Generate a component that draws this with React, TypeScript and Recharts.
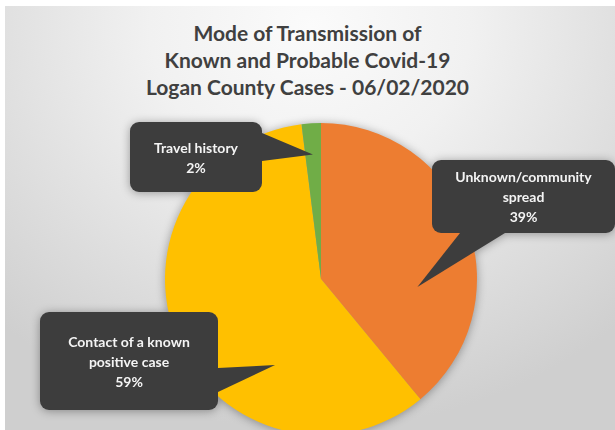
import { PieChart, Pie, Cell } from "recharts";

const categories = ["Unknown/community spread", "Contact of a known positive case", "Travel history"];
const shares = [39, 59, 2];
const labelLines = [["Unknown/community", "spread"], ["Contact of a known", "positive case"], ["Travel history"]];
const titleLines = ["Mode of Transmission of", "Known and Probable Covid-19", "Logan County Cases - 06/02/2020"];
const colors = ["#ED7D31", "#FFC000", "#70AD47"];

// callout placement, offsets from the pie centre (px)
const callouts = [
    { tipAngle: -4.7, tipR: 0.62, x: 111, y: -119, w: 183, h: 73, base: [[139, -46], [184, -46]] },
    { tipAngle: -118.1, tipR: 0.625, x: -281, y: 33, w: 178, h: 98, base: [[-103, 89], [-103, 113]] },
    { tipAngle: 93.7, tipR: 0.8, x: -191, y: -157, w: 132, h: 70, base: [[-59, -146], [-59, -118]] },
];

const data = categories.map((name, i) => ({ name, value: shares[i] }));
const RAD = Math.PI / 180;

const renderCallout = (props: any) => {
    const { cx, cy, outerRadius, index } = props;
    const c = callouts[index];
    const tx = cx + outerRadius * c.tipR * Math.cos(c.tipAngle * RAD);
    const ty = cy - outerRadius * c.tipR * Math.sin(c.tipAngle * RAD);
    const bx = cx + c.x;
    const by = cy + c.y;
    const lines = [...labelLines[index], `${shares[index]}%`];
    const mid = by + c.h / 2;
    const lh = 20;
    const start = mid - ((lines.length - 1) * lh) / 2;
    const pts = `${cx + c.base[0][0]},${cy + c.base[0][1]} ${tx},${ty} ${cx + c.base[1][0]},${cy + c.base[1][1]}`;
    return (
        <g key={`callout-${index}`}>
            <rect x={bx} y={by} width={c.w} height={c.h} rx={9} fill="#3d3d3d" />
            <polygon points={pts} fill="#3d3d3d" />
            {lines.map((t, i) => (
                <text
                    key={i}
                    x={bx + c.w / 2}
                    y={start + i * lh}
                    textAnchor="middle"
                    dominantBaseline="central"
                    fill="#f4f4f4"
                    fontFamily="Lato, 'Open Sans', sans-serif"
                    fontWeight={700}
                    fontSize={14}
                >
                    {t}
                </text>
            ))}
        </g>
    );
};

export default function App() {
    return (
        <div style={{ position: "absolute", left: 0, top: 0, width: 615, height: 430, background: "#ffffff", overflow: "hidden" }}>
            <div
                style={{
                    position: "absolute",
                    left: 5,
                    top: 6,
                    width: 610,
                    height: 424,
                    background: "radial-gradient(ellipse 75% 95% at 50% 5%, #fbfbfb 0%, #f1f1f1 35%, #dcdcdc 75%, #cfcfcf 100%)",
                }}
            />
            <div
                style={{
                    position: "absolute",
                    left: 0,
                    top: 19,
                    width: 615,
                    textAlign: "center",
                    fontFamily: "Lato, 'Open Sans', sans-serif",
                    fontWeight: 700,
                    fontSize: 21,
                    lineHeight: "27px",
                    color: "#404040",
                }}
            >
                {titleLines.map((t) => (
                    <div key={t}>{t}</div>
                ))}
            </div>
            <div style={{ position: "absolute", left: 0, top: 0, filter: "drop-shadow(0px 1px 5px rgba(0,0,0,0.35))" }}>
                <PieChart width={615} height={430}>
                    <Pie
                        data={data}
                        dataKey="value"
                        nameKey="name"
                        cx={316}
                        cy={274}
                        outerRadius={156}
                        startAngle={90}
                        endAngle={-270}
                        stroke="none"
                        label={renderCallout}
                        labelLine={false}
                        isAnimationActive={false}
                    >
                        {data.map((_, i) => (
                            <Cell key={i} fill={colors[i]} />
                        ))}
                    </Pie>
                </PieChart>
            </div>
        </div>
    );
}
